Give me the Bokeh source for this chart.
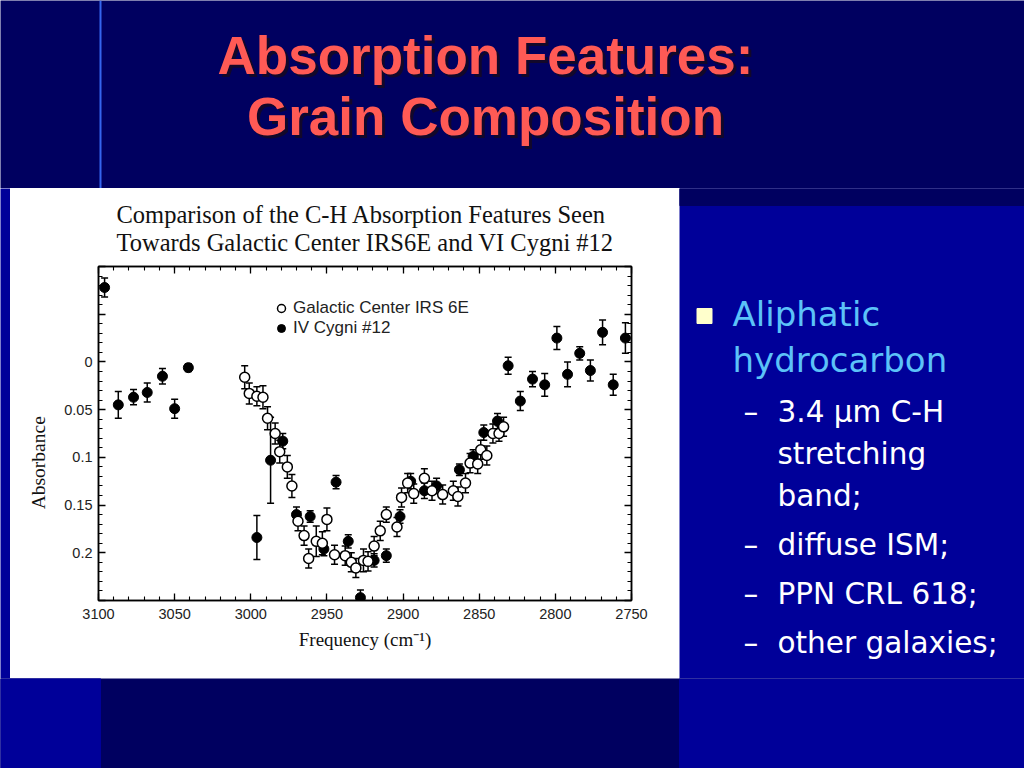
from bokeh.plotting import figure
from bokeh.layouts import column, row
from bokeh.models import (Range1d, LinearAxis, SingleIntervalTicker, CustomJSTickFormatter,
                          Legend, LegendItem, ColumnDataSource)
from bokeh.core.properties import value
from bokeh.embed import file_html
from bokeh.resources import INLINE

# ---------------- data ----------------
# IV Cygni #12 (filled symbols)
freq_cyg = [3096, 3087, 3077, 3068, 3058, 3050, 3041, 2996, 2987, 2979, 2970, 2961, 2952,
            2944, 2936, 2928, 2919, 2911, 2902, 2895, 2886, 2878, 2863, 2854, 2847, 2838,
            2831, 2823, 2815, 2807, 2799, 2792, 2784, 2777, 2769, 2762, 2754]
abs_cyg = [-0.078, 0.045, 0.037, 0.032, 0.015, 0.049, 0.006, 0.184, 0.103, 0.083, 0.160,
           0.162, 0.196, 0.126, 0.188, 0.247, 0.208, 0.203, 0.162, 0.125, 0.135, 0.130,
           0.113, 0.099, 0.074, 0.062, 0.004, 0.041, 0.018, 0.024, -0.025, 0.013, -0.009,
           0.009, -0.031, 0.024, -0.025]
err_cyg = [0.010, 0.014, 0.008, 0.010, 0.008, 0.010, 0.004, 0.023, 0.045, 0.008, 0.008,
           0.006, 0.007, 0.007, 0.007, 0.008, 0.007, 0.007, 0.007, 0.008, 0.008, 0.008,
           0.006, 0.007, 0.008, 0.008, 0.009, 0.010, 0.008, 0.012, 0.012, 0.013, 0.007,
           0.011, 0.013, 0.011, 0.016]

# Galactic Center IRS 6E (open symbols)
freq_gc = [3004, 3001, 2996, 2992, 2989, 2984, 2981, 2976, 2973, 2969, 2965, 2962, 2957,
           2953, 2950, 2945, 2938, 2934, 2931, 2926, 2923, 2919, 2915, 2911, 2904, 2901,
           2897, 2893, 2886, 2881, 2874, 2867, 2864, 2859, 2856, 2851, 2849, 2845, 2841,
           2837, 2834]
abs_gc = [0.016, 0.033, 0.036, 0.037, 0.059, 0.075, 0.094, 0.110, 0.130, 0.167, 0.182,
          0.206, 0.188, 0.190, 0.165, 0.202, 0.203, 0.210, 0.216, 0.208, 0.209, 0.193,
          0.177, 0.160, 0.173, 0.142, 0.127, 0.138, 0.122, 0.135, 0.139, 0.135, 0.141,
          0.127, 0.106, 0.107, 0.092, 0.098, 0.075, 0.075, 0.068]
err_gc = [0.012, 0.011, 0.010, 0.012, 0.012, 0.011, 0.012, 0.012, 0.012, 0.010, 0.010,
          0.010, 0.016, 0.012, 0.012, 0.010, 0.010, 0.010, 0.010, 0.012, 0.010, 0.010,
          0.010, 0.008, 0.010, 0.010, 0.010, 0.010, 0.010, 0.010, 0.010, 0.010, 0.010,
          0.010, 0.010, 0.010, 0.010, 0.010, 0.010, 0.008, 0.010]

series_labels = ["Galactic Center IRS 6E", "IV Cygni #12"]
chart_title = "Comparison of the C-H Absorption Features Seen\nTowards Galactic Center IRS6E and VI Cygni #12"
x_label = "Frequency (cm\u207b\u00b9)"
y_label = "Absorbance"

slide_title = ["Absorption Features:", "Grain Composition"]
bullet_main = ["Aliphatic", "hydrocarbon"]
sub_lines = ["3.4 \u00b5m C-H", "stretching", "band;", "diffuse ISM;", "PPN CRL 618;", "other galaxies;"]
sub_has_dash = [True, False, False, True, True, True]

DARK = "#000060"
BRIGHT = "#000099"


def no_align(p):
    try:
        p.frame_align = False
    except Exception:
        pass
    return p


# ---------------- chart ----------------
C = figure(width=669, height=490, output_backend="svg", toolbar_location=None,
           x_range=Range1d(3100, 2750), y_range=Range1d(0.25, -0.1),
           min_border_left=88, min_border_right=48, min_border_top=78, min_border_bottom=78,
           background_fill_color="white", border_fill_color="white",
           outline_line_color="black", outline_line_width=1.5)
no_align(C)
C.grid.visible = False
C.title.text = chart_title
C.title.align = "center"
C.title.offset = 4
C.title.text_font = "Liberation Serif"
C.title.text_font_size = "24.5px"
C.title.text_font_style = "normal"
C.title.text_color = "#111111"
C.title.text_line_height = 1.06
C.title.standoff = 20


def style_axis(ax):
    ax.major_tick_in = 7
    ax.major_tick_out = 0
    ax.minor_tick_in = 4
    ax.minor_tick_out = 0
    ax.axis_line_color = "black"
    ax.axis_line_width = 1.5
    ax.major_tick_line_color = "black"
    ax.major_tick_line_width = 1.3
    ax.minor_tick_line_color = "black"
    ax.minor_tick_line_width = 1.1


xb = C.xaxis[0]
yl = C.yaxis[0]
xb.ticker = SingleIntervalTicker(interval=50, num_minor_ticks=5)
yl.ticker = SingleIntervalTicker(interval=0.05, num_minor_ticks=5)
yl.formatter = CustomJSTickFormatter(code="""
    if (tick < -0.001 || tick > 0.201) return "";
    return String(Math.round(tick*100)/100);
""")
for ax in (xb, yl):
    style_axis(ax)
    ax.major_label_text_font = "Liberation Sans"
    ax.major_label_text_font_size = "14.5px"
    ax.major_label_text_color = "#222222"
    ax.axis_label_text_font = "Liberation Serif"
    ax.axis_label_text_font_style = "normal"
    ax.axis_label_text_color = "#111111"
xb.major_label_standoff = 8
xb.axis_label = x_label
xb.axis_label_text_font_size = "19px"
xb.axis_label_standoff = 7
yl.major_label_standoff = 6
# trailing no-break spaces push the rotated label lower, as in the original figure
yl.axis_label = y_label + "\u00a0" * 12
yl.axis_label_text_font_size = "19.5px"
yl.axis_label_standoff = 12

xt = LinearAxis(ticker=SingleIntervalTicker(interval=50, num_minor_ticks=5),
                formatter=CustomJSTickFormatter(code="return '';"),
                major_label_text_font_size="0px", major_label_standoff=0)
yr = LinearAxis(ticker=SingleIntervalTicker(interval=0.05, num_minor_ticks=5),
                formatter=CustomJSTickFormatter(code="return '';"),
                major_label_text_font_size="0px", major_label_standoff=0)
style_axis(xt)
style_axis(yr)
C.add_layout(xt, "above")
C.add_layout(yr, "right")

src_cyg = ColumnDataSource(dict(f=freq_cyg, a=abs_cyg,
                                lo=[a - e for a, e in zip(abs_cyg, err_cyg)],
                                hi=[a + e for a, e in zip(abs_cyg, err_cyg)]))
src_gc = ColumnDataSource(dict(f=freq_gc, a=abs_gc,
                               lo=[a - e for a, e in zip(abs_gc, err_gc)],
                               hi=[a + e for a, e in zip(abs_gc, err_gc)]))

# filled series: error bars + markers
C.segment(x0="f", y0="lo", x1="f", y1="hi", source=src_cyg, line_color="black", line_width=1.5)
C.scatter("f", "lo", source=src_cyg, marker="dash", size=7, line_color="black", line_width=1.5)
C.scatter("f", "hi", source=src_cyg, marker="dash", size=7, line_color="black", line_width=1.5)
r_cyg = C.scatter("f", "a", source=src_cyg, marker="circle", size=10,
                  fill_color="black", line_color="black")
# open series
C.segment(x0="f", y0="lo", x1="f", y1="hi", source=src_gc, line_color="black", line_width=1.5)
C.scatter("f", "lo", source=src_gc, marker="dash", size=7, line_color="black", line_width=1.5)
C.scatter("f", "hi", source=src_gc, marker="dash", size=7, line_color="black", line_width=1.5)
r_gc = C.scatter("f", "a", source=src_gc, marker="circle", size=10,
                 fill_color="white", line_color="black", line_width=1.5)

legend = Legend(items=[LegendItem(label=series_labels[0], renderers=[r_gc]),
                       LegendItem(label=series_labels[1], renderers=[r_cyg])],
                location=(173, 262), padding=0, margin=0, spacing=0,
                glyph_width=20, glyph_height=20, label_standoff=2, label_height=20,
                label_text_font="Liberation Sans", label_text_font_size="17px",
                label_text_color="#222222",
                background_fill_alpha=0, border_line_color=None)
C.add_layout(legend)


# ---------------- slide pieces (coordinates = slide pixels) ----------------
def panel(w, h, x0, x1, y0, y1, bg):
    p = figure(width=w, height=h, output_backend="svg", toolbar_location=None,
               x_range=Range1d(x0, x1), y_range=Range1d(y1, y0),
               x_axis_location=None, y_axis_location=None, min_border=0,
               background_fill_color=bg, border_fill_color=bg, outline_line_color=None)
    p.grid.visible = False
    no_align(p)
    return p


T = panel(1024, 188, 0, 1024, 0, 188, DARK)
T.segment(x0=[100], y0=[0], x1=[100], y1=[188], line_color="#3565EE", line_width=2)
T.text(x=[488, 488], y=[58, 119], text=slide_title, text_color="#12082a",
       text_font=value("Liberation Sans"), text_font_style="bold", text_font_size="53px",
       text_align="center", text_baseline="alphabetic")
T.text(x=[485, 485], y=[55, 116], text=slide_title, text_color="#FF5A55",
       text_font=value("Liberation Sans"), text_font_style="bold", text_font_size="53px",
       text_align="center", text_baseline="alphabetic")

L = panel(10, 490, 0, 10, 188, 678, BRIGHT)

R = panel(345, 490, 679, 1024, 188, 678, BRIGHT)
R.quad(left=[679], right=[1024], top=[188], bottom=[205], color=DARK)
R.rect(x=[704], y=[315.5], width=[15], height=[15], color="#FFFFCC")
R.text(x=[732, 732], y=[313, 359], text=bullet_main, text_color="#5CC2F8",
       text_font=value("DejaVu Sans"), text_font_size="34px",
       text_align="left", text_baseline="alphabetic")
sub_y = [411, 453, 495, 544, 593, 642]
R.text(x=[777] * len(sub_lines), y=sub_y, text=sub_lines, text_color="white",
       text_font=value("DejaVu Sans"), text_font_size="29.5px",
       text_align="left", text_baseline="alphabetic")
dash_y = [y for y, d in zip(sub_y, sub_has_dash) if d]
R.text(x=[743] * len(dash_y), y=dash_y, text=["\u2013"] * len(dash_y), text_color="white",
       text_font=value("DejaVu Sans"), text_font_size="29.5px",
       text_align="left", text_baseline="alphabetic")

B = panel(1024, 90, 0, 1024, 678, 768, DARK)
B.quad(left=[0, 679], right=[100, 1024], top=[678, 678], bottom=[768, 768], color=BRIGHT)

layout = column(T, row(L, C, R, spacing=0), B, spacing=0)

open("out.html", "w").write(file_html(layout, INLINE))
